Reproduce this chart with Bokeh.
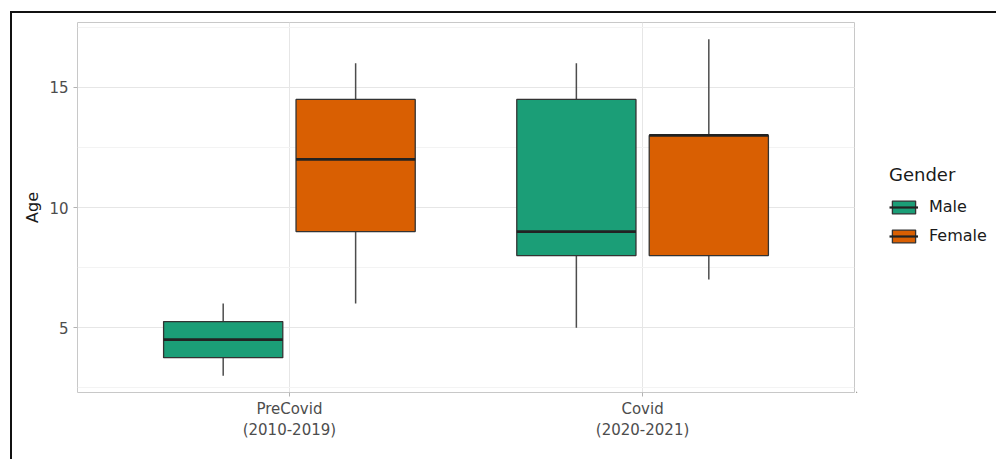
import numpy as np
from bokeh.plotting import figure
from bokeh.layouts import row
from bokeh.models import (Range1d, FixedTicker, SingleIntervalTicker, Legend,
                          LegendItem, ColumnDataSource)
from bokeh.embed import file_html
from bokeh.resources import INLINE

# ---- data ----
period_labels = ["PreCovid\n(2010-2019)", "Covid\n(2020-2021)"]
genders = ["Male", "Female"]

male_min = [3, 5]
male_q1 = [3.75, 8]
male_med = [4.5, 9]
male_q3 = [5.25, 14.5]
male_max = [6, 16]

female_min = [6, 7]
female_q1 = [9, 8]
female_med = [12, 13]
female_q3 = [14.5, 13]
female_max = [16, 17]

colors = {"Male": "#1B9E77", "Female": "#D95F02"}

FONT = "DejaVu Sans"
BOX_W = 0.3375
OFFSET = 0.1875

pos = np.arange(1, len(period_labels) + 1)

p = figure(width=844, height=446,
           x_range=Range1d(0.4, len(period_labels) + 0.6),
           y_range=Range1d(2.3, 17.7),
           output_backend="svg", toolbar_location=None,
           min_border_left=65, min_border_right=2,
           min_border_top=9, min_border_bottom=67)

p.background_fill_color = "white"
p.border_fill_color = "white"
p.outline_line_color = "#C8C8C8"
p.outline_line_width = 1

# axes
p.xaxis.ticker = FixedTicker(ticks=list(pos))
p.xaxis.major_label_overrides = {int(i): lab for i, lab in zip(pos, period_labels)}
p.yaxis.ticker = SingleIntervalTicker(interval=5, num_minor_ticks=2)
for ax in (p.xaxis, p.yaxis):
    ax.axis_line_color = None
    ax.major_tick_line_color = "#B3B3B3"
    ax.major_tick_out = 4
    ax.major_tick_in = 0
    ax.minor_tick_line_color = None
    ax.major_label_text_font = FONT
    ax.major_label_text_font_size = "15px"
    ax.major_label_text_color = "#4D4D4D"
p.yaxis.major_label_standoff = 5
p.xaxis.major_label_standoff = 3
p.yaxis.axis_label = "Age"
p.yaxis.axis_label_text_font = FONT
p.yaxis.axis_label_text_font_size = "16px"
p.yaxis.axis_label_text_font_style = "normal"
p.yaxis.axis_label_text_color = "#1A1A1A"
p.yaxis.axis_label_standoff = 4

# grid
p.xgrid.grid_line_color = "#E6E6E6"
p.ygrid.grid_line_color = "#E6E6E6"
p.ygrid.minor_grid_line_color = "#F3F3F3"
p.xgrid.grid_line_width = 1
p.ygrid.grid_line_width = 1

series = {
    "Male": (male_min, male_q1, male_med, male_q3, male_max, -OFFSET),
    "Female": (female_min, female_q1, female_med, female_q3, female_max, OFFSET),
}
for g in genders:
    mn, q1, md, q3, mx, off = series[g]
    x = pos + off
    src = ColumnDataSource(dict(
        x=x, x0=x - BOX_W / 2, x1=x + BOX_W / 2,
        mn=mn, q1=q1, md=md, q3=q3, mx=mx))
    p.segment(x0="x", x1="x", y0="q3", y1="mx", source=src,
              line_color="#4D4D4D", line_width=1.5)
    p.segment(x0="x", x1="x", y0="mn", y1="q1", source=src,
              line_color="#4D4D4D", line_width=1.5)
    p.vbar(x="x", width=BOX_W, bottom="q1", top="q3", source=src,
           fill_color=colors[g], line_color="#333333", line_width=1.3)
    p.segment(x0="x0", x1="x1", y0="md", y1="md", source=src,
              line_color="#222222", line_width=2.8)

# ---- legend panel (separate figure to the right) ----
lf = figure(width=140, height=446, x_range=Range1d(0, 1), y_range=Range1d(0, 1),
            output_backend="svg", toolbar_location=None,
            x_axis_type=None, y_axis_type=None,
            min_border_left=0, min_border_right=0,
            min_border_top=0, min_border_bottom=0)
lf.outline_line_color = None
lf.grid.visible = False
lf.background_fill_color = "white"
lf.border_fill_color = "white"

# legend key stand-ins, kept outside the visible range of this panel
items = []
for g in genders:
    key_src = ColumnDataSource(dict(x=[-5], top=[-5], bottom=[-6],
                                    x0=[-6], x1=[-5], y=[-5]))
    key_box = lf.vbar(x="x", width=0.1, top="top", bottom="bottom", source=key_src,
                      fill_color=colors[g], line_color="#333333", line_width=1.3)
    key_med = lf.segment(x0="x0", x1="x1", y0="y", y1="y", source=key_src,
                         line_color="#222222", line_width=2.2)
    items.append(LegendItem(label=g, renderers=[key_box, key_med]))

legend = Legend(items=items, location=(33, 147),
                title="Gender", title_text_font=FONT,
                title_text_font_size="18px", title_text_font_style="normal",
                title_text_color="#1A1A1A", title_standoff=12,
                label_text_font=FONT, label_text_font_size="16px",
                label_text_color="#1A1A1A",
                glyph_width=29, glyph_height=16, label_height=16,
                label_standoff=11, spacing=10, padding=0, margin=0,
                border_line_alpha=0, background_fill_alpha=0)
lf.add_layout(legend, "center")

layout = row(p, lf, spacing=0)
layout.styles = {"margin-left": "10px", "margin-top": "11px",
                 "border-left": "2px solid #111111",
                 "border-top": "2px solid #111111"}

open("out.html", "w").write(file_html(layout, INLINE))
